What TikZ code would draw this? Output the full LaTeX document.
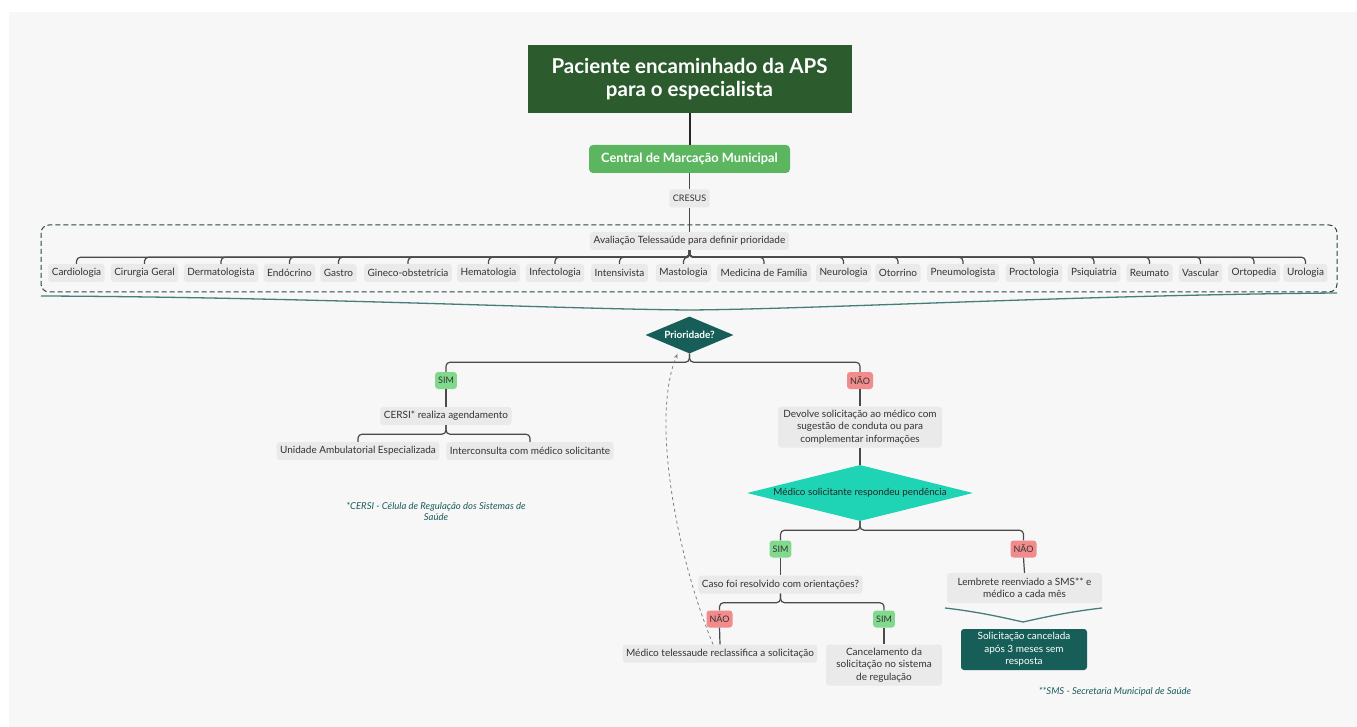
\documentclass[tikz,border=0pt]{standalone}
\usepackage{fontspec}
\setmainfont{Lato}
\usetikzlibrary{shapes.geometric,arrows.meta}

\definecolor{fundo}{HTML}{F7F7F7}
\definecolor{verdeescuro}{HTML}{2C5B2E}
\definecolor{verde}{HTML}{5CB660}
\definecolor{cinza}{HTML}{EAEAEA}
\definecolor{petroleo}{HTML}{175E58}
\definecolor{turquesa}{HTML}{1ED4B4}
\definecolor{simcor}{HTML}{80D98D}
\definecolor{naocor}{HTML}{F28B8B}
\definecolor{notacor}{HTML}{1B5C5C}
\definecolor{linha}{HTML}{4A4A4A}
\definecolor{tracejado}{HTML}{2B4545}

\tikzset{
  caixa/.style={fill=cinza, rounded corners=3pt, text=black!80, inner xsep=3.5pt, inner ysep=2pt,
    minimum height=18pt, font=\fontsize{10}{12.5}\selectfont, align=center},
  titulo/.style={fill=verdeescuro, text=white, minimum width=324pt, minimum height=68pt,
    font=\bfseries\fontsize{20.5}{23}\selectfont, align=center},
  central/.style={fill=verde, text=white, rounded corners=4pt, minimum width=201pt, minimum height=28pt,
    font=\bfseries\fontsize{12.8}{14}\selectfont},
  sim/.style={fill=simcor, rounded corners=3pt, minimum height=17pt, inner xsep=3pt,
    text=black!80, font=\fontsize{9}{10}\selectfont},
  nao/.style={sim, fill=naocor},
  decisao/.style={diamond, fill=petroleo, text=white, inner sep=0pt, aspect=2.4,
    minimum width=88pt, minimum height=37pt, font=\bfseries\fontsize{10}{11}\selectfont},
  pendencia/.style={diamond, fill=turquesa, text=black!85, inner sep=0pt, aspect=4,
    minimum width=226pt, minimum height=56pt, font=\fontsize{9.8}{11}\selectfont},
  final/.style={fill=petroleo, text=white, rounded corners=3pt, minimum width=126pt, minimum height=41pt,
    align=center, font=\fontsize{10}{12.5}\selectfont},
  ramo/.style={draw=linha, line width=1.2pt, rounded corners=4pt},
  nota/.style={text=notacor, font=\itshape\fontsize{9.5}{11}\selectfont, align=center},
  resumo/.style={draw=petroleo!80, line width=1.3pt},
  retorno/.style={draw=gray, dashed, line width=0.8pt, -{Stealth[length=5pt]}},
}

\begin{document}
\begin{tikzpicture}[x=1pt, y=-1pt]
  \fill[white] (0,0) rectangle (1357,727);
  \fill[fundo] (9,12) rectangle (1357,727);

  \node[titulo] (titulo) at (689.5,79) {Paciente encaminhado da APS\\para o especialista};
  \node[central] (central) at (689.5,159) {Central de Marcação Municipal};
  \node[caixa, font=\fontsize{9}{10}\selectfont] (cresus) at (689.5,198.5) {CRESUS};

  \draw[draw=tracejado, line width=1pt, dash pattern=on 5pt off 3pt, rounded corners=8pt]
    (41,225) rectangle (1337,292);

  \node[caixa] (avalia) at (689.5,241) {Avaliação Telessaúde para definir prioridade};

  \node[caixa] (cardio) at (76.5,273) {Cardiologia};
  \node[caixa] (cirurgia) at (144.5,273) {Cirurgia Geral};
  \node[caixa] (derma) at (221,273) {Dermatologista};
  \node[caixa] (endo) at (289.5,273) {Endócrino};
  \node[caixa] (gastro) at (338.5,273) {Gastro};
  \node[caixa] (gineco) at (408,273) {Gineco-obstetrícia};
  \node[caixa] (hemato) at (488.5,273) {Hematologia};
  \node[caixa] (infecto) at (555,273) {Infectologia};
  \node[caixa] (intens) at (619.5,273) {Intensivista};
  \node[caixa] (masto) at (683.5,273) {Mastologia};
  \node[caixa] (medfam) at (764,273) {Medicina de Família};
  \node[caixa] (neuro) at (843.5,273) {Neurologia};
  \node[caixa] (otorrino) at (898,273) {Otorrino};
  \node[caixa] (pneumo) at (963,273) {Pneumologista};
  \node[caixa] (procto) at (1034,273) {Proctologia};
  \node[caixa] (psiq) at (1094,273) {Psiquiatria};
  \node[caixa] (reumato) at (1149.5,273) {Reumato};
  \node[caixa] (vascular) at (1200.5,273) {Vascular};
  \node[caixa] (orto) at (1254,273) {Ortopedia};
  \node[caixa] (uro) at (1305.5,273) {Urologia};

  \coordinate (juncao) at (689.5,310);
  \draw[resumo] (41,296) .. controls (300,297) and (560,309) .. (juncao);
  \draw[resumo] (1337,293) .. controls (1080,295) and (820,309) .. (juncao);

  \node[decisao] (prio) at (689.5,335) {Prioridade?};
  \node[sim] (sim1) at (446,380.5) {SIM};
  \node[nao] (nao1) at (860,380.5) {NÃO};
  \node[caixa] (cersi) at (446,416) {CERSI* realiza agendamento};
  \node[caixa] (uae) at (358,451) {Unidade Ambulatorial Especializada};
  \node[caixa] (inter) at (530,451) {Interconsulta com médico solicitante};
  \node[nota] (nota1) at (436,511) {*CERSI - Célula de Regulação dos Sistemas de\\Saúde};

  \node[caixa, minimum width=164pt, minimum height=41pt] (devolve) at (860,427)
    {Devolve solicitação ao médico com\\sugestão de conduta ou para\\complementar informações};
  \node[pendencia] (pend) at (860,493) {Médico solicitante respondeu pendência};
  \node[sim] (sim2) at (780.5,549) {SIM};
  \node[nao] (nao2) at (1023.5,549) {NÃO};
  \node[caixa] (caso) at (780.5,584.5) {Caso foi resolvido com orientações?};
  \node[nao] (nao3) at (719.5,619) {NÃO};
  \node[sim] (sim3) at (884,619) {SIM};
  \node[caixa] (reclass) at (720,653.5) {Médico telessaude reclassifica a solicitação};
  \node[caixa, minimum width=116pt, minimum height=41pt] (cancel) at (884,665)
    {Cancelamento da\\solicitação no sistema\\de regulação};
  \node[caixa, minimum width=155pt, minimum height=30pt] (lembrete) at (1024.5,588)
    {Lembrete reenviado a SMS** e\\médico a cada mês};

  \coordinate (juncao2) at (1023,622);
  \draw[resumo] (945,608) .. controls (980,612) and (1005,618) .. (juncao2);
  \draw[resumo] (1102,608) .. controls (1067,612) and (1041,618) .. (juncao2);

  \node[final] (cancelada) at (1024,649.5) {Solicitação cancelada\\após 3 meses sem\\resposta};
  \node[nota] (nota2) at (1115,692) {**SMS - Secretaria Municipal de Saúde};

  \draw[draw=black!85, line width=2pt] (titulo.south) -- (central.north);
  \draw[ramo] (central.south) -- (cresus.north);
  \draw[ramo] (cresus.south) -- (avalia.north);
  \foreach \e in {cardio,cirurgia,derma,endo,gastro,gineco,hemato,infecto,intens,masto,
                  medfam,neuro,otorrino,pneumo,procto,psiq,reumato,vascular,orto,uro}
    \draw[ramo] (avalia.south) -- ++(0,7) -| (\e.north);

  \draw[ramo] (prio.south) -- ++(0,8.5) -| (sim1.north);
  \draw[ramo] (prio.south) -- ++(0,8.5) -| (nao1.north);
  \draw[ramo] (sim1.south) -- (cersi.north);
  \draw[ramo] (cersi.south) -- ++(0,9) -| (uae.north);
  \draw[ramo] (cersi.south) -- ++(0,9) -| (inter.north);
  \draw[ramo] (nao1.south) -- (devolve.north);
  \draw[ramo] (devolve.south) -- (pend.north);
  \draw[ramo] (pend.south) -- ++(0,9) -| (sim2.north);
  \draw[ramo] (pend.south) -- ++(0,9) -| (nao2.north);
  \draw[ramo] (sim2.south) -- (caso.north);
  \draw[ramo] (caso.south) -- ++(0,9) -| (nao3.north);
  \draw[ramo] (caso.south) -- ++(0,9) -| (sim3.north);
  \draw[ramo] (nao3.south) -- (reclass.north);
  \draw[ramo] (sim3.south) -- (cancel.north);
  \draw[ramo] (nao2.south) -- (lembrete.north);

  \draw[retorno] ([xshift=-7pt]reclass.north) .. controls (678,560) and (650,420) .. ([xshift=-12pt]prio.south);
\end{tikzpicture}
\end{document}
